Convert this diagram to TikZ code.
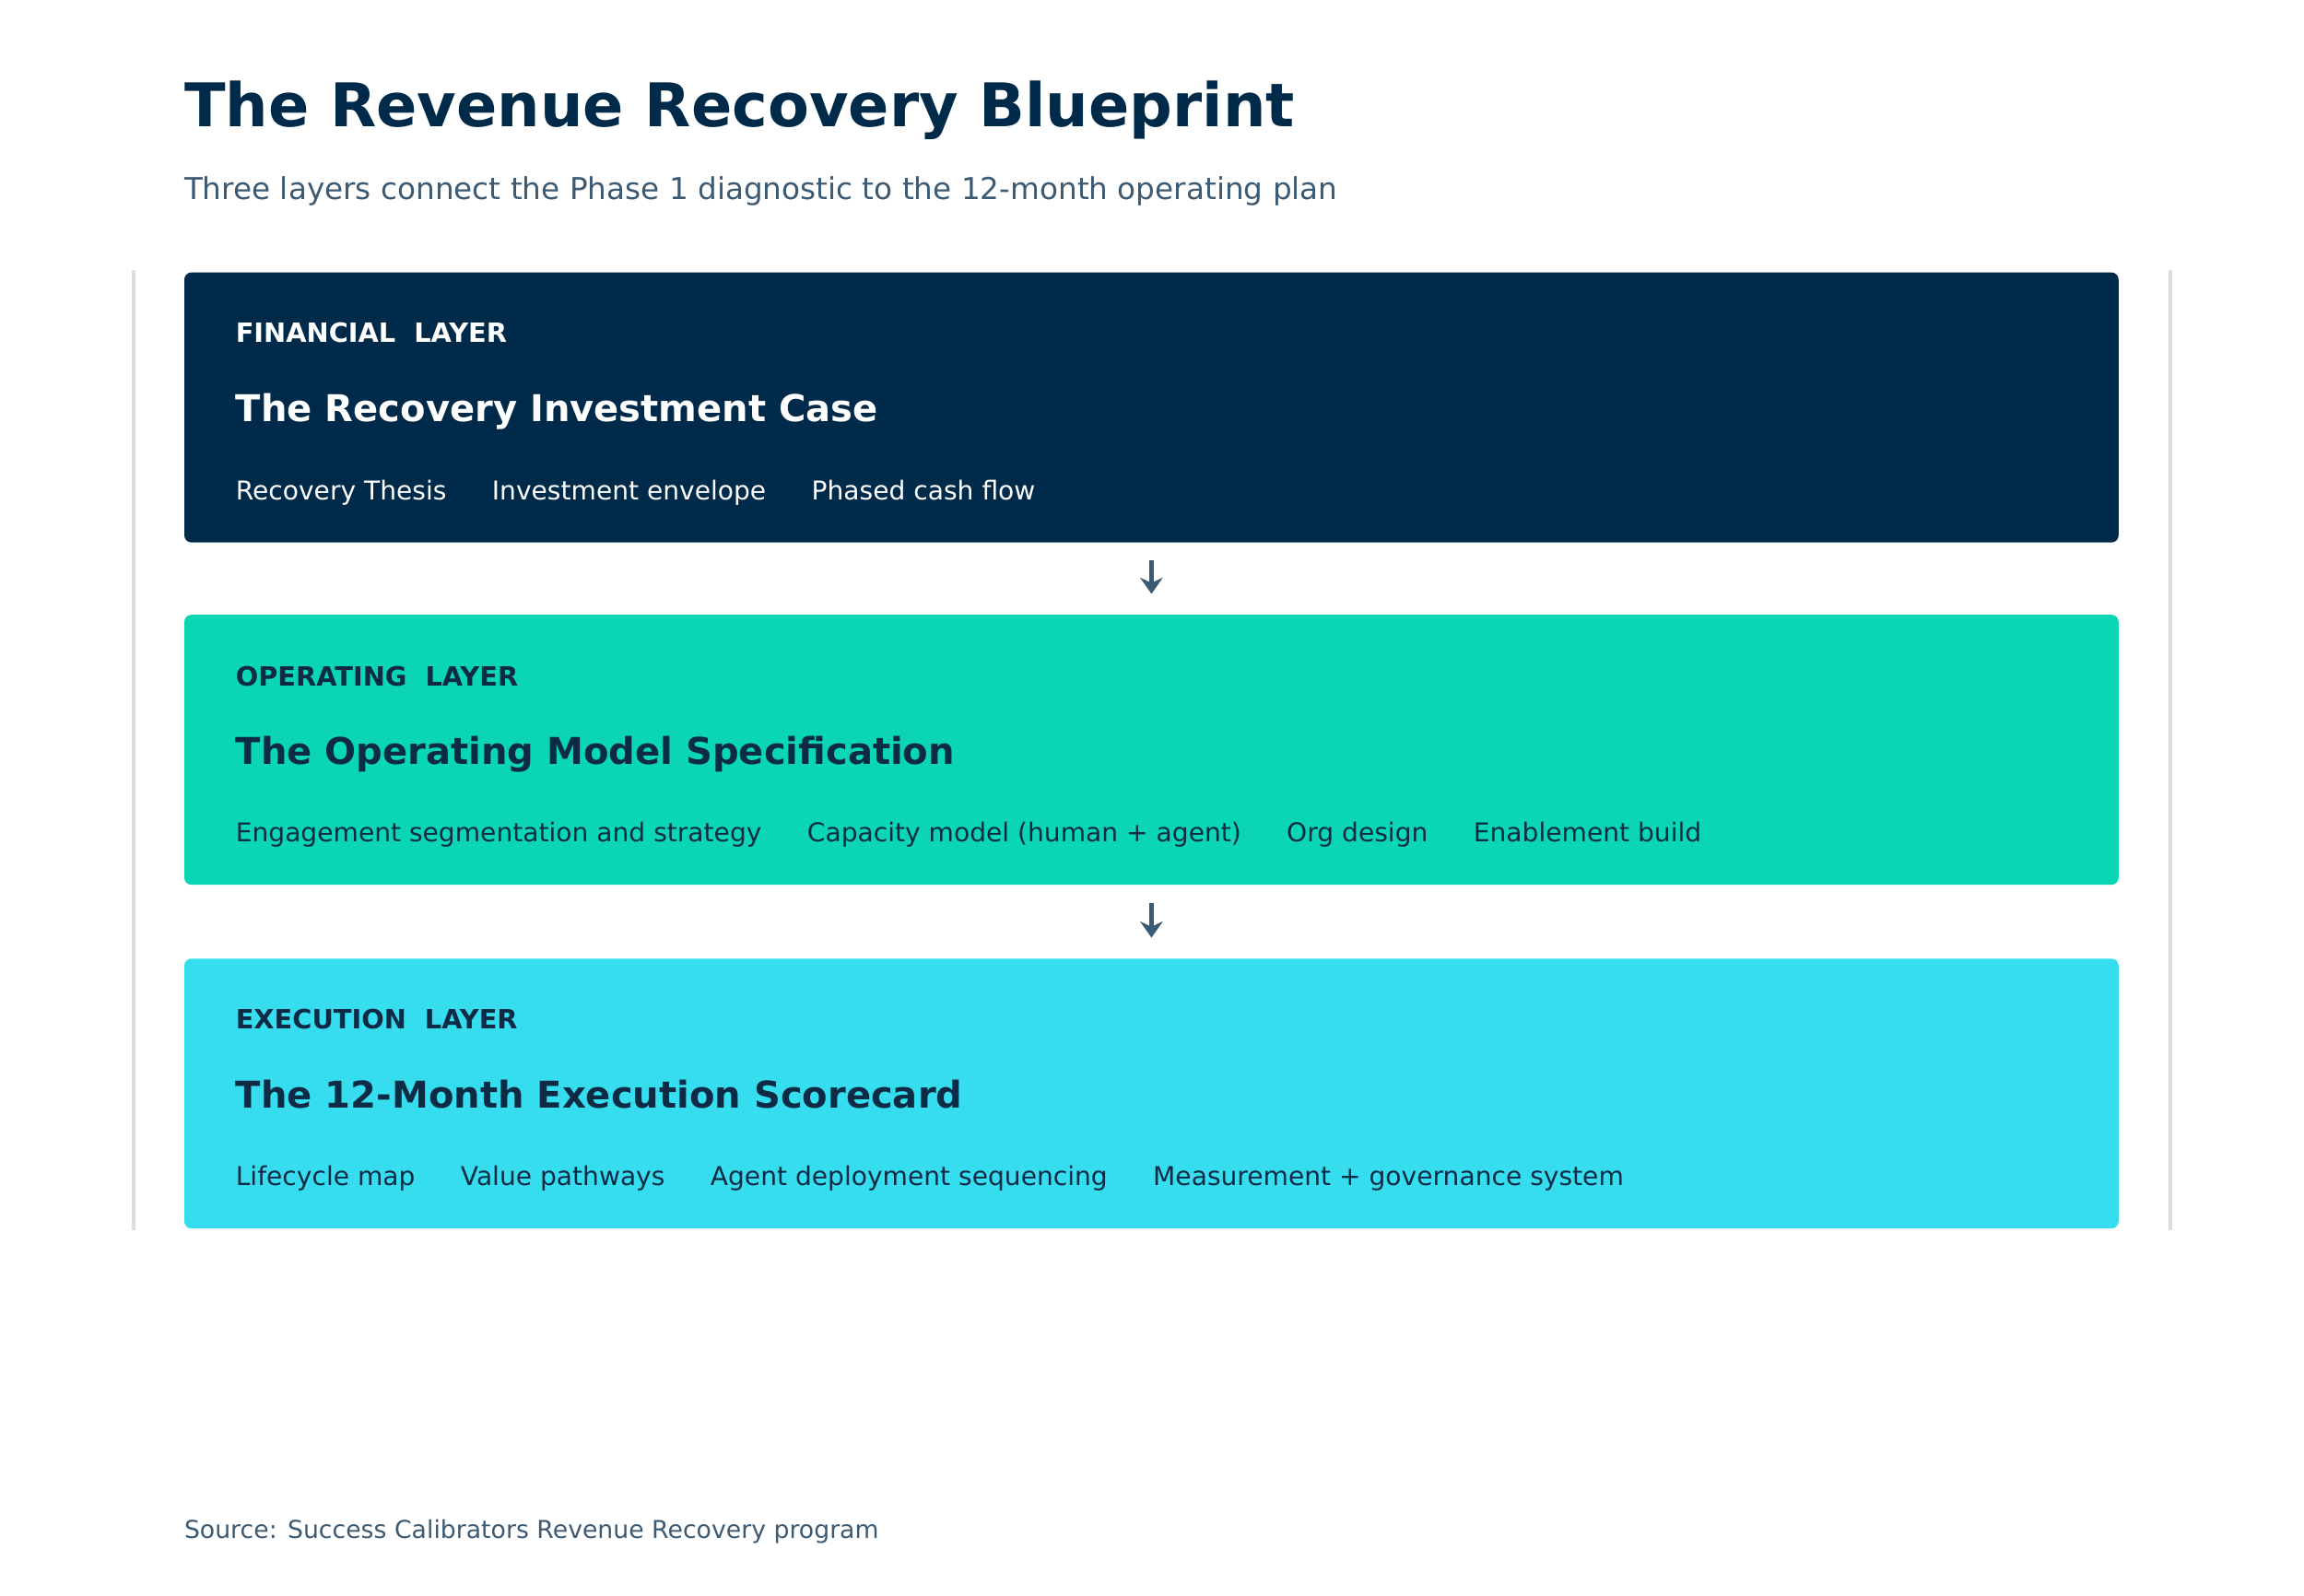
\documentclass[tikz,border=0pt]{standalone}
\usepackage{fontspec}
\setmainfont{DejaVu Sans}
\usetikzlibrary{positioning,arrows.meta}
\definecolor{navy}{HTML}{002A4A}
\definecolor{teal}{HTML}{0AD6B4}
\definecolor{cyanbox}{HTML}{36DDEF}
\definecolor{ink}{HTML}{0D2B45}
\definecolor{slate}{HTML}{3D5A73}
\definecolor{rule}{HTML}{DDDDDD}
\tikzset{
  layerbox/.style={rounded corners=2.2pt, inner sep=0pt, minimum width=20.99cm, minimum height=2.93cm, anchor=north west},
  tag/.style={anchor=base west, inner sep=0pt, font=\bfseries\fontsize{8.2}{10}\selectfont},
  heading/.style={anchor=base west, inner sep=0pt, font=\bfseries\fontsize{11.4}{14}\selectfont},
  item/.style={anchor=base west, inner sep=0pt, font=\fontsize{8}{10}\selectfont},
  next/.style={item, right=0.48cm of #1.base east, anchor=base west},
  flow/.style={-{Stealth[length=5pt,width=7pt]}, line width=1.6pt, slate, shorten <=0.19cm, shorten >=0.22cm}
}
\begin{document}
\begin{tikzpicture}[x=0.01594cm, y=-0.01594cm]
\useasboundingbox (0,0) rectangle (1568,1086);

\node[anchor=base west, inner sep=0pt, text=navy, font=\bfseries\fontsize{18.6}{22}\selectfont] (title) at (125,86) {The Revenue Recovery Blueprint};
\node[anchor=base west, inner sep=0pt, text=slate, font=\fontsize{9.3}{12}\selectfont] (subtitle) at (125,136) {Three layers connect the Phase 1 diagnostic to the 12-month operating plan};

\draw[rule, line width=1.2pt] (91,184) -- (91,837);
\draw[rule, line width=1.2pt] (1477,184) -- (1477,837);

% financial layer
\node[layerbox, fill=navy] (fin) at (125,185) {};
\node[tag, text=white] (fintag) at (160,233) {FINANCIAL\ \ LAYER};
\node[heading, text=white] (finhead) at (160,287) {The Recovery Investment Case};
\node[item, text=white] (fin1) at (160,340) {Recovery Thesis};
\node[next=fin1, text=white] (fin2) {Investment envelope};
\node[next=fin2, text=white] (fin3) {Phased cash flow};

% operating layer
\node[layerbox, fill=teal] (ops) at (125,418) {};
\node[tag, text=ink] (opstag) at (160,467) {OPERATING\ \ LAYER};
\node[heading, text=ink] (opshead) at (160,520) {The Operating Model Specification};
\node[item, text=ink] (ops1) at (160,573) {Engagement segmentation and strategy};
\node[next=ops1, text=ink] (ops2) {Capacity model (human + agent)};
\node[next=ops2, text=ink] (ops3) {Org design};
\node[next=ops3, text=ink] (ops4) {Enablement build};

% execution layer
\node[layerbox, fill=cyanbox] (exe) at (125,652) {};
\node[tag, text=ink] (exetag) at (160,700) {EXECUTION\ \ LAYER};
\node[heading, text=ink] (exehead) at (160,754) {The 12-Month Execution Scorecard};
\node[item, text=ink] (exe1) at (160,807) {Lifecycle map};
\node[next=exe1, text=ink] (exe2) {Value pathways};
\node[next=exe2, text=ink] (exe3) {Agent deployment sequencing};
\node[next=exe3, text=ink] (exe4) {Measurement + governance system};

\draw[flow] (fin.south) -- (ops.north);
\draw[flow] (ops.south) -- (exe.north);

\node[anchor=base west, inner sep=0pt, text=slate, font=\fontsize{7.6}{10}\selectfont] (source) at (125,1047) {Source: Success Calibrators Revenue Recovery program};
\end{tikzpicture}
\end{document}
